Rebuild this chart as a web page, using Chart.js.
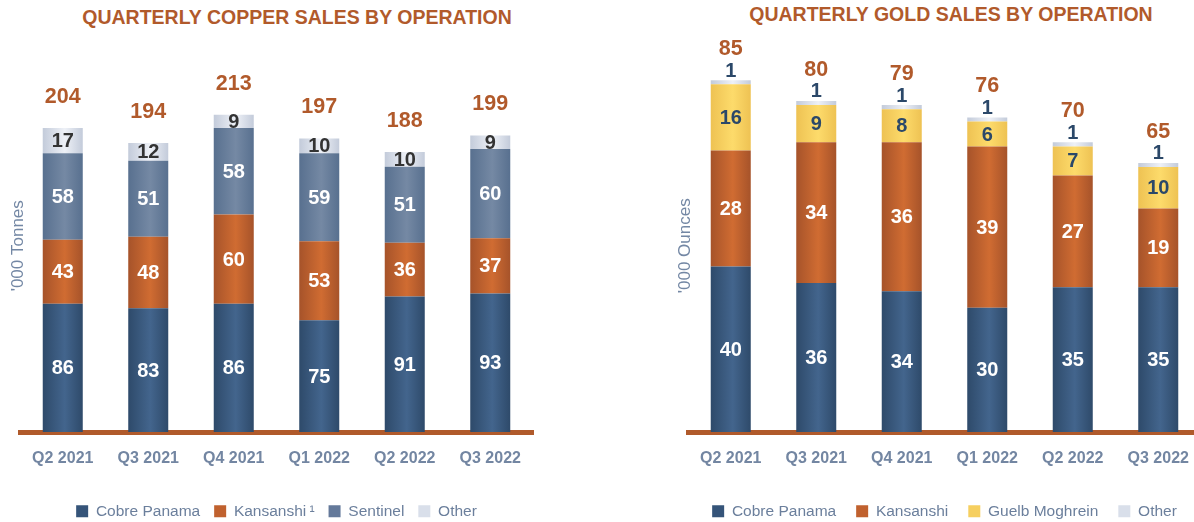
<!DOCTYPE html>
<html>
<head>
<meta charset="utf-8">
<script src="https://cdn.jsdelivr.net/npm/chart.js@4.4.0/dist/chart.umd.min.js"></script>
<style>
  html, body { margin: 0; padding: 0; background: #fff; overflow: hidden; }
  #page { position: relative; width: 1194px; height: 522px; overflow: hidden; background: #fff; }
  .title { position: absolute; font: bold 19.5px "Liberation Sans", Arial, sans-serif; color: #b15a2b; line-height: 22px; white-space: nowrap; transform: translateX(-50%); }
  .box { position: absolute; top: 0; }
  canvas { display: block; }
</style>
</head>
<body>
<div id="page">
  <div class="title" style="left:297px;top:6px">QUARTERLY COPPER SALES BY OPERATION</div>
  <div class="title" style="left:951px;top:3px">QUARTERLY GOLD SALES BY OPERATION</div>
  <div class="box" style="left:0;width:594px;height:529px"><canvas id="copper-chart" width="594" height="529"></canvas></div>
  <div class="box" style="left:660px;width:582px;height:529px"><canvas id="gold-chart" width="582" height="529"></canvas></div>
</div>
<script>
const quarters = ['Q2 2021', 'Q3 2021', 'Q4 2021', 'Q1 2022', 'Q2 2022', 'Q3 2022'];

// copper, '000 tonnes
const copperCobrePanama = [86, 83, 86, 75, 91, 93];
const copperKansanshi = [43, 48, 60, 53, 36, 37];
const copperSentinel = [58, 51, 58, 59, 51, 60];
const copperOther = [17, 12, 9, 10, 10, 9];
const copperTotals = [204, 194, 213, 197, 188, 199];

// gold, '000 ounces
const goldCobrePanama = [40, 36, 34, 30, 35, 35];
const goldKansanshi = [28, 34, 36, 39, 27, 19];
const goldGuelbMoghrein = [16, 9, 8, 6, 7, 10];
const goldOther = [1, 1, 1, 1, 1, 1];
const goldTotals = [85, 80, 79, 76, 70, 65];

const BAR_PCT = 0.468;
const FONT = '"Liberation Sans", Arial, sans-serif';
Chart.defaults.font.family = FONT;

// cylinder-like shading across each bar
function shaded(edge, mid) {
    return function (ctx) {
        const xScale = ctx.chart.scales.x;
        if (ctx.type !== 'data' || !xScale) return mid;
        const cx = xScale.getPixelForValue(ctx.dataIndex);
        const half = xScale.width / quarters.length * BAR_PCT / 2;
        const g = ctx.chart.ctx.createLinearGradient(cx - half, 0, cx + half, 0);
        g.addColorStop(0, edge);
        g.addColorStop(0.55, mid);
        g.addColorStop(1, edge);
        return g;
    };
}

// values inside the segments + totals on top
const segLabels = {
    id: 'segLabels',
    afterDatasetsDraw(chart, args, opts) {
        const ctx = chart.ctx;
        ctx.save();
        ctx.textAlign = 'center';
        ctx.textBaseline = 'middle';
        chart.data.datasets.forEach((ds, di) => {
            const meta = chart.getDatasetMeta(di);
            ctx.fillStyle = opts.colors[di];
            ctx.font = 'bold 20px ' + FONT;
            meta.data.forEach((bar, i) => {
                const y = opts.above[di] ? bar.y - 10 : (bar.y + bar.base) / 2;
                ctx.fillText(ds.data[i], bar.x, y + 1);
            });
        });
        const topMeta = chart.getDatasetMeta(chart.data.datasets.length - 1);
        ctx.fillStyle = '#b15a2b';
        ctx.font = 'bold 21.5px ' + FONT;
        topMeta.data.forEach((bar, i) => {
            ctx.fillText(opts.totals[i], bar.x, bar.y - 32 + 1);
        });
        ctx.restore();
    }
};

function legendLabels(chart) {
    return Chart.defaults.plugins.legend.labels.generateLabels(chart).map((item) => {
        const ds = chart.data.datasets[item.datasetIndex];
        return Object.assign(item, { fillStyle: ds.swatch, strokeStyle: ds.swatch, lineWidth: 0 });
    });
}

function buildChart(id, datasets, o) {
    return new Chart(document.getElementById(id), {
        type: 'bar',
        data: { labels: quarters, datasets: datasets },
        plugins: [segLabels],
        options: {
            responsive: false,
            animation: false,
            datasets: {
                bar: { barPercentage: BAR_PCT, categoryPercentage: 1, borderWidth: 0 }
            },
            layout: { padding: { top: 59.5, right: o.padRight, left: 0, bottom: 0 } },
            scales: {
                x: {
                    stacked: true,
                    z: 1,
                    grid: { display: false, drawTicks: false },
                    border: { color: '#b05a2b', width: 5 },
                    ticks: { color: '#7386a2', font: { size: 16, weight: 'bold' }, padding: 17 },
                    afterFit: (s) => { s.height = o.axisHeight; }
                },
                y: {
                    stacked: true,
                    min: 0,
                    max: o.yMax,
                    grid: { display: false },
                    border: { display: false },
                    ticks: { display: false },
                    title: {
                        display: true,
                        text: o.yTitle,
                        color: '#7387a4',
                        font: { size: 17 },
                        padding: { top: o.yTitlePad, bottom: 0 }
                    },
                    afterFit: (s) => { s.width = o.yWidth; }
                }
            },
            plugins: {
                legend: {
                    position: 'bottom',
                    fullSize: false,
                    labels: {
                        boxWidth: 12,
                        boxHeight: 12,
                        padding: o.legendPad,
                        color: '#6b7f9c',
                        font: { size: 15.5 },
                        generateLabels: legendLabels
                    }
                },
                tooltip: { enabled: false },
                segLabels: o.labels
            }
        }
    });
}

buildChart('copper-chart', [
    { label: 'Cobre Panama', data: copperCobrePanama, swatch: '#355479', backgroundColor: shaded('#2e4a6a', '#43658d') },
    { label: 'Kansanshi\u2009\u00b9', data: copperKansanshi, swatch: '#c0612e', backgroundColor: shaded('#a6532a', '#d06c32') },
    { label: 'Sentinel', data: copperSentinel, swatch: '#64799a', backgroundColor: shaded('#58708f', '#7589a4') },
    { label: 'Other', data: copperOther, swatch: '#d9dfea', backgroundColor: shaded('#c3cbda', '#eef1f7') }
], {
    yMax: 250,
    yTitle: "'000 Tonnes",
    yTitlePad: 8.3,
    yWidth: 20,
    padRight: 61,
    legendPad: 14,
    axisHeight: 57.5,
    labels: { colors: ['#fff', '#fff', '#fff', '#333'], above: [false, false, false, false], totals: copperTotals }
});

buildChart('gold-chart', [
    { label: 'Cobre Panama', data: goldCobrePanama, swatch: '#355479', backgroundColor: shaded('#2e4a6a', '#43658d') },
    { label: 'Kansanshi', data: goldKansanshi, swatch: '#c0612e', backgroundColor: shaded('#a6532a', '#d06c32') },
    { label: 'Guelb Moghrein', data: goldGuelbMoghrein, swatch: '#f6cf5f', backgroundColor: shaded('#eec253', '#fddb6b') },
    { label: 'Other', data: goldOther, swatch: '#d9dfea', backgroundColor: shaded('#c3cbda', '#eef1f7') }
], {
    yMax: 90,
    yTitle: "'000 Ounces",
    yTitlePad: 14.8,
    yWidth: 28,
    padRight: 41,
    legendPad: 20,
    axisHeight: 51.5,
    labels: { colors: ['#fff', '#fff', '#2b4869', '#2b4869'], above: [false, false, false, true], totals: goldTotals }
});
</script>
</body>
</html>
